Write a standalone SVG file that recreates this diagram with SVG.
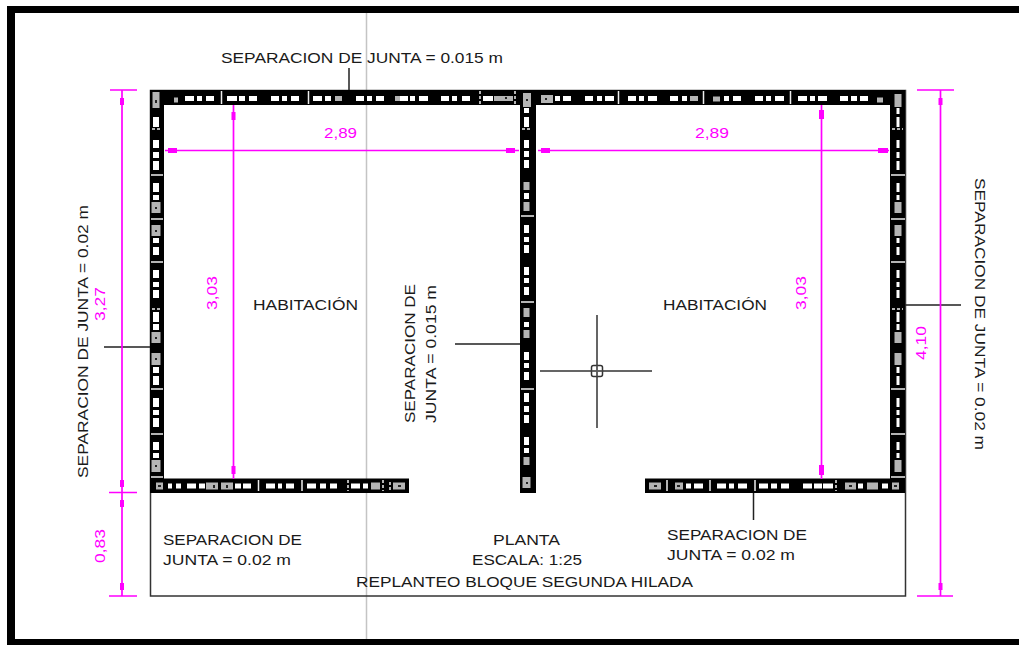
<svg xmlns="http://www.w3.org/2000/svg" width="1019" height="645" viewBox="0 0 1019 645">
<style>
text{font-family:"Liberation Sans",Arial,sans-serif;font-size:14.5px;fill:#1a1a1a}
.m{fill:#f0f}
.ml{stroke:#f0f;stroke-width:1.700;fill:none}
.mb{fill:#f0f;stroke:none}
.k{stroke:#222;stroke-width:1.500;fill:none}
.w{stroke:#fff;fill:none}
.g{stroke:#b4b4b4;fill:none}
.t{stroke-width:5}
.b{stroke:#eee;stroke-width:1.500;fill:none}
.d{stroke:#eee;stroke-width:1.500;stroke-dasharray:3 2;fill:none}
.dot{fill:#222}
</style>
<rect width="1019" height="645" fill="#fff"/>
<g id="frame" fill="#000">
<rect x="7" y="6" width="1012" height="7"/>
<rect x="7" y="6" width="8" height="639"/>
<rect x="7" y="639" width="1012" height="6"/>
</g>
<path d="M366.500 13V639" stroke="#c4c4c4" stroke-width="1.500" fill="none"/>
<rect id="site-outline" x="150.500" y="90.500" width="755" height="505.500" fill="none" stroke="#333" stroke-width="1.500"/>

<g id="wall-top">
<rect x="150" y="90" width="755" height="15" fill="#000"/>
<path class="w t" d="M185 98.500H194M197 98.500H202M206 98.500H214M227 98.500H237M239 98.500H245M249 98.500H257M271 98.500H279M282 98.500H287M291 98.500H299M313 98.500H322M325 98.500H331M356 98.500H364M367 98.500H372M376 98.500H384M400 98.500H408M410 98.500H415M419 98.500H428M441 98.500H449M452 98.500H457M462 98.500H470M483 98.500H493M555 98.500H560M563 98.500H571M585 98.500H593M597 98.500H602M605 98.500H614M628 98.500H636M639 98.500H644M648 98.500H657M670 98.500H678M682 98.500H687M724 98.500H729M733 98.500H741M755 98.500H763M766 98.500H771M775 98.500H784M798 98.500H807M810 98.500H815M818 98.500H827M840 98.500H848M851 98.500H857M860 98.500H868"/>
<path class="b" d="M221.500 91V104M308.500 91V104M618.500 91V104M703.500 91V104M790.500 91V104"/>
<path class="d" d="M480 91V104M515 91V104"/>
<path class="g t" d="M174 100H178M335 98.500H342M395 98.500H400M494 98.500H513M690 98.500H698M713 99H720M877 100H883"/>
<rect x="541" y="95" width="12" height="8" fill="#b4b4b4"/>
<rect x="545" y="98" width="2" height="2" class="dot"/>
<rect x="505" y="97" width="2" height="2" class="dot"/>
</g>

<g id="wall-left">
<rect x="150" y="90" width="14" height="403" fill="#000"/>
<path class="w" stroke-width="6" d="M156 117V127M156 140V148M156 152V158M156 161V170M156 183V192M156 195V200M156 238V243M156 247V255M156 270V278M156 282V287M156 290V298M156 312V322M156 324V330M156 367V373M156 376V385M156 398V407M156 410V415M156 418V427M156 442V450M156 453V458"/>
<path class="b" d="M151 175H163M151 219H163M151 262H163M151 389H163M151 434H163M151 477H163"/>
<path class="d" d="M152 129H161M152 309H161"/>
<path class="g" stroke-width="9" d="M156 202V213M156 225V236M156 332V343M156 353V365M156 460V472"/>
<path class="g" stroke-width="7" d="M156 92V108"/>
<path class="dot" d="M155 207h2v2h-2zM155 230h2v2h-2zM155 337h2v2h-2zM155 358h2v2h-2zM155 465h2v2h-2zM155 100h2v3h-2z"/>
</g>

<g id="wall-center">
<rect x="520" y="90" width="16" height="403" fill="#000"/>
<path class="w" stroke-width="5" d="M526.500 108V113M526.500 117V127M526.500 140V148M526.500 151V157M526.500 160V168M526.500 225V233M526.500 237V242M526.500 245V253M526.500 267V275M526.500 278V283M526.500 287V295M526.500 352V360M526.500 363V368M526.500 372V380M526.500 393V402M526.500 406V412M526.500 415V423M526.500 437V445M526.500 448V453"/>
<path class="b" d="M521 216H534M521 302H534M521 389H534"/>
<path class="d" d="M522 129H532"/>
<path class="g" stroke-width="6" d="M526.500 182V190M526.500 202V211M526.500 308V317M526.500 330V338M526.500 457V465"/>
<path class="w" stroke-width="5" d="M526.500 193V199M526.500 322V327"/>
<path class="g" stroke-width="8" d="M527 93V107M526.500 477V488"/>
<path class="dot" d="M526 99h2v2h-2zM526 482h2v2h-2z"/>
</g>

<g id="wall-right">
<rect x="890" y="90" width="15" height="403" fill="#000"/>
<path class="w" stroke-width="3" d="M898 108V114M898 117V127M898 140V148M898 152V158M898 161V170M898 183V192M898 195V200M898 238V243M898 247V255M898 270V278M898 282V287M898 290V298M898 312V322M898 324V330M898 367V373M898 376V385M898 398V407M898 410V415M898 418V427M898 442V450M898 453V458"/>
<path class="b" d="M891 175H905M891 219H905M891 262H905M891 389H905M891 434H905M891 477H905"/>
<path class="d" d="M892 129H903M892 309H903"/>
<path class="g" stroke-width="7" d="M898 202V213M898 225V236M898 332V343M898 353V365M898 460V472M898 94V107"/>
</g>

<g id="wall-bottom-left">
<rect x="150" y="478.500" width="259" height="14.500" fill="#000"/>
<path class="w t" d="M168 486H172M176 486H181M187 486H196M199 486H205M235 486H241M243 486H251M266 486H275M278 486H282M286 486H294M307 486H316M320 486H326M330 486H337M351 486H360M363 486H368"/>
<path class="b" d="M258.500 480V491M302 480V491"/>
<path class="d" d="M348 480V491M383 480V491M390 482V490"/>
<path class="g" stroke-width="7" d="M156 486H163M206 486H218M221 486H233M371 486H380M393 486H405"/>
<path class="dot" d="M158 485h3v2h-3zM213 485h2v3h-2zM226 485h2v3h-2zM398 485h3v2h-3z"/>
</g>

<g id="wall-bottom-right">
<rect x="645" y="478.500" width="260" height="14.500" fill="#000"/>
<path class="w t" d="M686 486H691M694 486H703M717 486H726M729 486H734M738 486H747M759 486H768M771 486H777M781 486H789M803 486H812M814 486H822M823 486H833M858 486H863M882 486H888"/>
<path class="b" d="M667 480V491M710 480V491M755 480V491"/>
<path class="d" d="M836 480V491"/>
<path class="g" stroke-width="7" d="M649 486H661M675 486H683M845 486H856M867 486H878M892 486H899"/>
<path class="dot" d="M654 485h3v2h-3zM677 485h3v2h-3zM849 485h3v2h-3zM894 485h3v2h-3z"/>
</g>

<g id="connectors">
<path class="k" d="M349 68V90M104 347H150M455 344H520M905 305H961M753.500 493V520"/>
<g id="crosshair">
<path stroke="#333" stroke-width="1.500" fill="none" d="M540 371H652M597 315V428"/>
<rect x="591.500" y="365.500" width="11" height="11" rx="2" fill="none" stroke="#333" stroke-width="1.500"/>
<path stroke="#666" stroke-width="1" fill="none" d="M591.500 371H602.500M597 365.500V376.500"/>
</g>
</g>

<g id="dimensions">
<path class="ml" d="M122 90V596M110 90H137M109 492.500H137M109 596H137M940.500 90V596M917 90H954M917 596H953M165 150.500H519M538 150.500H889M233.500 105V479M821.500 105V479"/>
<path class="mb" d="M120 98h4v7h-4zM120 480h4v7h-4zM120 500h4v7h-4zM120 583h4v7h-4zM938.500 98h4v7h-4zM938.500 583h4v7h-4zM168 148h9v5h-9zM506 148h9v5h-9zM541 148h9v5h-9zM878 148h10v5h-10zM231.500 112h4v8h-4zM231.500 466h4v8h-4zM819 110h5v9h-5zM819 465h5v10h-5z"/>
<text class="m" x="324" y="138" textLength="33" lengthAdjust="spacingAndGlyphs">2,89</text>
<text class="m" x="695" y="138" textLength="34" lengthAdjust="spacingAndGlyphs">2,89</text>
<text class="m" transform="translate(217 310) rotate(-90)" textLength="34" lengthAdjust="spacingAndGlyphs">3,03</text>
<text class="m" transform="translate(806 310) rotate(-90)" textLength="34" lengthAdjust="spacingAndGlyphs">3,03</text>
<text class="m" transform="translate(105 321) rotate(-90)" textLength="34" lengthAdjust="spacingAndGlyphs">3,27</text>
<text class="m" transform="translate(105 563) rotate(-90)" textLength="34" lengthAdjust="spacingAndGlyphs">0,83</text>
<text class="m" transform="translate(926 360) rotate(-90)" textLength="34" lengthAdjust="spacingAndGlyphs">4,10</text>
</g>

<g id="labels">
<text x="221" y="63" textLength="282" lengthAdjust="spacingAndGlyphs">SEPARACION DE JUNTA = 0.015 m</text>
<text transform="translate(88 478) rotate(-90)" textLength="273" lengthAdjust="spacingAndGlyphs">SEPARACION DE JUNTA = 0.02 m</text>
<text transform="translate(975 178) rotate(90)" textLength="272" lengthAdjust="spacingAndGlyphs">SEPARACION DE JUNTA = 0.02 m</text>
<text transform="translate(415 423) rotate(-90)" textLength="139" lengthAdjust="spacingAndGlyphs">SEPARACION DE</text>
<text transform="translate(436 423) rotate(-90)" textLength="138" lengthAdjust="spacingAndGlyphs">JUNTA = 0.015 m</text>
<text x="253" y="310" textLength="105" lengthAdjust="spacingAndGlyphs">HABITACIÓN</text>
<text x="663" y="310" textLength="104" lengthAdjust="spacingAndGlyphs">HABITACIÓN</text>
<text x="163" y="545" textLength="139" lengthAdjust="spacingAndGlyphs">SEPARACION DE</text>
<text x="163" y="565" textLength="128" lengthAdjust="spacingAndGlyphs">JUNTA = 0.02 m</text>
<text x="667" y="540" textLength="140" lengthAdjust="spacingAndGlyphs">SEPARACION DE</text>
<text x="667" y="560" textLength="128" lengthAdjust="spacingAndGlyphs">JUNTA = 0.02 m</text>
<text x="493" y="545" textLength="67" lengthAdjust="spacingAndGlyphs">PLANTA</text>
<text x="472" y="565" textLength="110" lengthAdjust="spacingAndGlyphs">ESCALA: 1:25</text>
<text x="356" y="587" textLength="337" lengthAdjust="spacingAndGlyphs">REPLANTEO BLOQUE SEGUNDA HILADA</text>
</g>
</svg>
